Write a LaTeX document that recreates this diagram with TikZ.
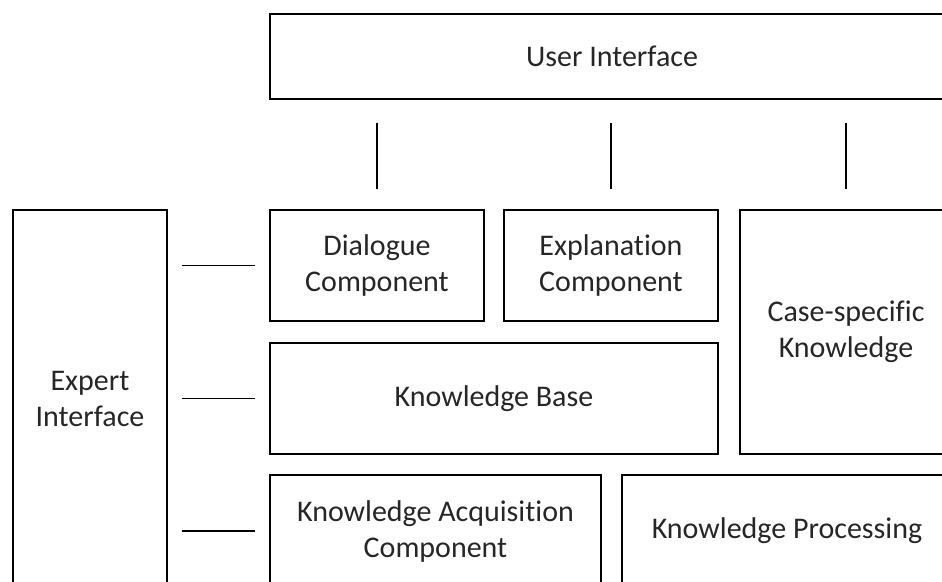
\documentclass[tikz,border=0pt]{standalone}
\usepackage{fontspec}
\setmainfont[Ligatures=NoCommon]{Carlito}
\begin{document}
\begin{tikzpicture}[x=1pt,y=-1pt,
  box/.style={draw, line width=1.5pt, inner sep=0pt, align=center,
    font=\fontsize{30}{36}\selectfont, text=black!85},
  link/.style={line width=1.6pt}]
\useasboundingbox (0,0) rectangle (942,581);
\clip (0,0) rectangle (942,581);
% components
\node[box, minimum width=684pt, minimum height=85pt]  (ui)  at (612,56.5)  {User Interface};
\node[box, minimum width=214pt, minimum height=111pt] (dc)  at (377,265.5) {Dialogue\\Component};
\node[box, minimum width=214pt, minimum height=111pt] (ec)  at (611,265.5) {Explanation\\Component};
\node[box, minimum width=212pt, minimum height=244pt] (cs)  at (846,332)   {Case-specific\\Knowledge};
\node[box, minimum width=448pt, minimum height=111pt] (kb)  at (494,398.5) {Knowledge Base};
\node[box, minimum width=331pt, minimum height=112pt] (kac) at (435.5,531) {Knowledge Acquisition\\Component};
\node[box, minimum width=330pt, minimum height=112pt] (kp)  at (787,531)   {Knowledge Processing};
\node[box, minimum width=154pt, minimum height=378pt] (ei)  at (90,399)    {Expert\\Interface};
% links to the user interface
\foreach \n in {dc,ec,cs}
  \draw[link, shorten <=23pt, shorten >=20pt] (ui.south -| \n.north) -- (\n.north);
% links to the expert interface
\foreach \n in {dc,kb,kac}
  \draw[link, shorten <=14pt, shorten >=14pt] (ei.east |- \n.west) -- (\n.west);
\end{tikzpicture}
\end{document}
